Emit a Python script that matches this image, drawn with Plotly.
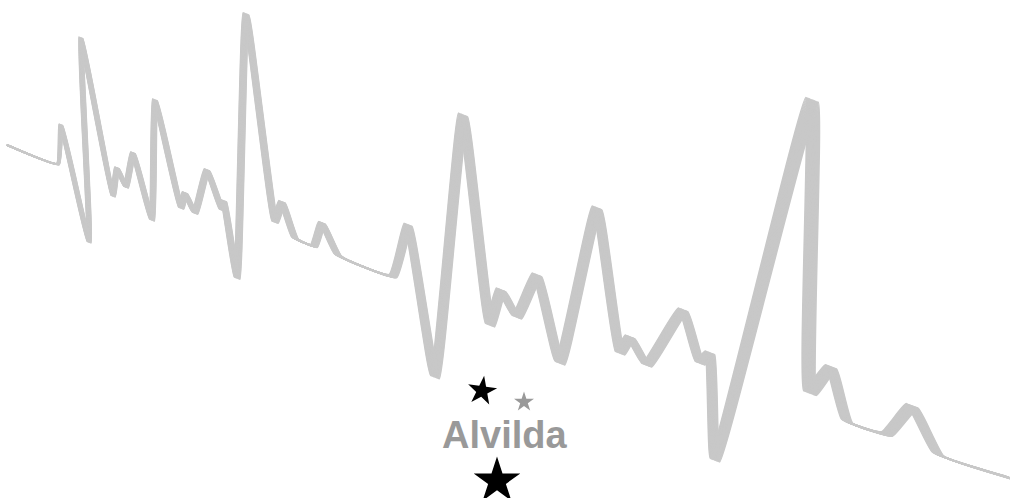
import numpy as np
import plotly.graph_objects as go

# Path of the stroke (centre line), in chart units (x right, y down)
xs = [7, 58, 61, 89, 81, 113, 117, 126, 133, 152, 155, 181, 185, 195, 207, 222, 224, 237, 246,
      275, 282, 295, 314, 322, 338, 393, 408, 435, 463, 490, 501, 517, 537, 560, 597, 620, 630,
      647, 683, 700, 710, 715, 812, 810, 831, 847, 887, 912, 938, 1010]
ys = [145, 164, 125, 242, 38, 196, 168, 187, 153, 220, 100, 208, 193, 213, 170, 210, 201, 278, 14,
      222, 202, 238, 246, 223, 255, 276, 225, 377, 115, 325, 290, 317, 275, 363, 208, 353, 337,
      365, 310, 363, 353, 460, 100, 393, 367, 421, 434, 406, 454, 478]
# Pen (nib) size at each point
widths = [1.0, 2.5, 4.2, 4.6, 4.8, 4.8, 5.0, 5.0, 5.2, 5.5, 5.5, 5.8, 5.8, 6.0, 6.0, 6.2, 6.2, 6.5, 6.5,
          6.8, 7.0, 7.0, 7.2, 7.3, 7.5, 8.0, 8.5, 9.5, 10.0, 10.0, 10.0, 10.0, 10.2, 10.2, 10.2, 10.2, 10.2,
          10.2, 10.2, 10.2, 10.2, 10.2, 13.5, 13.5, 12.0, 11.5, 11.5, 12.5, 12.0, 10.0]
NIB_ANGLE_DEG = 21

# Stars and label
star_x = [482, 524, 497]
star_y = [391, 402, 481]
star_size = [22, 15, 35]
star_color = ["#000000", "#999999", "#000000"]
star_angle = [8, 0, 0]
label = "Alvilda"
label_x, label_y = 504, 435

STROKE = "#c8c8c8"
N_PASSES = 18

ang = np.deg2rad(NIB_ANGLE_DEG)
ux, uy = np.cos(ang), np.sin(ang)
X = np.array(xs, dtype=float)
Y = np.array(ys, dtype=float)
W = np.array(widths, dtype=float)

fig = go.Figure()
# calligraphic stroke: the same path drawn repeatedly across the nib
for t in np.linspace(-0.5, 0.5, N_PASSES):
    fig.add_trace(go.Scatter(x=X + t * W * ux, y=Y + t * W * uy, mode="lines",
                             line=dict(color=STROKE, width=1.8, shape="spline", smoothing=0.35),
                             hoverinfo="skip", showlegend=False))

fig.add_trace(go.Scatter(x=star_x, y=star_y, mode="markers",
                         marker=dict(symbol="star", size=star_size, color=star_color, opacity=1,
                                     angle=star_angle, line=dict(width=0)),
                         hoverinfo="skip", showlegend=False))
fig.add_annotation(x=label_x, y=label_y, text="<b>" + label + "</b>", showarrow=False,
                   xanchor="center", yanchor="middle",
                   font=dict(family="Liberation Sans, Arial, sans-serif", size=38, color="#999999"))

fig.update_layout(width=1010, height=498, margin=dict(l=0, r=0, t=0, b=0),
                  paper_bgcolor="white", plot_bgcolor="white",
                  xaxis=dict(range=[0, 1010], visible=False, fixedrange=True),
                  yaxis=dict(range=[498, 0], visible=False, fixedrange=True))
fig.write_html("out.html", config={"displayModeBar": False},
               post_script="document.body.style.margin='0';document.body.style.overflow='hidden';")
